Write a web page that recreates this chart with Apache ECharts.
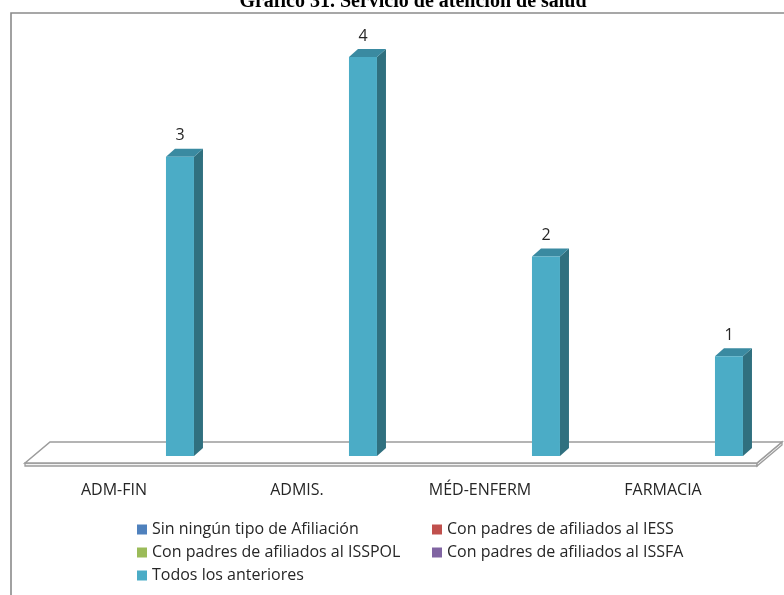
<!DOCTYPE html>
<html>
<head>
<meta charset="utf-8">
<script src="https://cdn.jsdelivr.net/npm/echarts@6/dist/echarts.min.js"></script>
<style>
  html, body { margin: 0; padding: 0; background: #ffffff; }
  #chart { width: 784px; height: 595px; }
</style>
</head>
<body>
<div id="chart"></div>
<script>
// Categories and series values
const categories = ['ADM-FIN', 'ADMIS.', 'MÉD-ENFERM', 'FARMACIA'];
const sinAfiliacion = [0, 0, 0, 0];
const padresIESS = [0, 0, 0, 0];
const padresISSPOL = [0, 0, 0, 0];
const padresISSFA = [0, 0, 0, 0];
const todosAnteriores = [3, 4, 2, 1];

const FONT = '"Open Sans", "Noto Sans", sans-serif';
const TEXT_COLOR = '#262626';

// 3D column: front face, darker side face, top face and value label
function renderColumn(params, api) {
  const band = api.size([1, 0])[0];
  const cat = api.value(0);
  const val = api.value(1);
  const base = api.coord([cat, 0]);
  const top = api.coord([cat, val]);
  const w = band * 0.153;
  const x0 = base[0] + band * 0.284;
  const dx = 9, dy = 8;
  const yb = base[1], yt = top[1];
  return {
    type: 'group',
    children: [
      {
        type: 'polygon',
        shape: { points: [[x0 + w, yt], [x0 + w + dx, yt - dy], [x0 + w + dx, yb - dy], [x0 + w, yb]] },
        style: { fill: '#30707f' }
      },
      {
        type: 'polygon',
        shape: { points: [[x0, yt], [x0 + dx, yt - dy], [x0 + w + dx, yt - dy], [x0 + w, yt]] },
        style: { fill: '#3a8aa1' }
      },
      {
        type: 'rect',
        shape: { x: x0, y: yt, width: w, height: yb - yt },
        style: { fill: '#4bacc6' }
      },
      {
        type: 'text',
        x: x0 + w / 2,
        y: yt - dy - 13,
        style: {
          text: String(val),
          fill: TEXT_COLOR,
          font: '16px ' + FONT,
          align: 'center',
          verticalAlign: 'middle'
        }
      }
    ]
  };
}

// Floor slab under the columns, sized from the grid
function renderFloor(params, api) {
  const cs = params.coordSys;
  const yBase = api.coord([0, 0])[1];
  const fl = cs.x + 2.5, fr = cs.x + cs.width + 2.5;
  const yFront = yBase + 7, yBack = yBase - 14;
  const depth = 25, thick = 3;
  const stroke = '#9c9c9c';
  return {
    type: 'group',
    children: [
      {
        type: 'polygon',
        shape: { points: [[fl, yFront], [fr, yFront], [fr, yFront + thick], [fl, yFront + thick]] },
        style: { fill: '#f2f2f2', stroke: stroke, lineWidth: 1.3 }
      },
      {
        type: 'polygon',
        shape: { points: [[fr, yFront], [fr + depth, yBack], [fr + depth, yBack + thick], [fr, yFront + thick]] },
        style: { fill: '#f2f2f2', stroke: stroke, lineWidth: 1.3 }
      },
      {
        type: 'polygon',
        shape: { points: [[fl, yFront], [fl + depth, yBack], [fr + depth, yBack], [fr, yFront]] },
        style: { fill: '#ffffff', stroke: stroke, lineWidth: 1.6 }
      }
    ]
  };
}

const chart = echarts.init(document.getElementById('chart'), null, { renderer: 'canvas' });

const legendCommon = {
  orient: 'vertical',
  icon: 'rect',
  itemWidth: 10,
  itemHeight: 10,
  itemGap: 6,
  padding: 0,
  selectedMode: false,
  textStyle: { fontFamily: FONT, fontSize: 16, color: TEXT_COLOR, lineHeight: 17 }
};

chart.setOption({
  animation: false,
  backgroundColor: '#ffffff',
  graphic: [
    {
      type: 'rect',
      shape: { x: 11, y: 13, width: 820, height: 640 },
      style: { fill: 'none', stroke: '#8a8a8a', lineWidth: 1.6 },
      z: -10
    },
    {
      type: 'text',
      x: 413,
      y: 11.5,
      style: {
        text: 'Gráfico 31. Servicio de atención de salud',
        font: 'bold 20px "Liberation Serif", "DejaVu Serif", serif',
        fill: '#000000',
        align: 'center',
        verticalAlign: 'bottom'
      }
    }
  ],
  grid: { left: 22.5, right: 29.5, top: 57, bottom: 139 },
  xAxis: {
    type: 'category',
    data: categories,
    axisLine: { show: false },
    axisTick: { show: false },
    splitLine: { show: false },
    axisLabel: { margin: 26, fontFamily: FONT, fontSize: 16, color: TEXT_COLOR }
  },
  yAxis: { type: 'value', min: 0, max: 4, show: false },
  legend: [
    Object.assign({}, legendCommon, {
      left: 137, top: 521,
      data: ['Sin ningún tipo de Afiliación', 'Con padres de afiliados al ISSPOL', 'Todos los anteriores']
    }),
    Object.assign({}, legendCommon, {
      left: 432, top: 521,
      data: ['Con padres de afiliados al IESS', 'Con padres de afiliados al ISSFA']
    })
  ],
  series: [
    {
      type: 'custom',
      renderItem: renderFloor,
      data: [[0, 0]],
      silent: true,
      z: 1
    },
    { name: 'Sin ningún tipo de Afiliación', type: 'bar', data: sinAfiliacion, itemStyle: { color: '#4f81bd' }, barWidth: 1 },
    { name: 'Con padres de afiliados al IESS', type: 'bar', data: padresIESS, itemStyle: { color: '#c0504d' }, barWidth: 1 },
    { name: 'Con padres de afiliados al ISSPOL', type: 'bar', data: padresISSPOL, itemStyle: { color: '#9bbb59' }, barWidth: 1 },
    { name: 'Con padres de afiliados al ISSFA', type: 'bar', data: padresISSFA, itemStyle: { color: '#8064a2' }, barWidth: 1 },
    {
      name: 'Todos los anteriores',
      type: 'custom',
      renderItem: renderColumn,
      itemStyle: { color: '#4bacc6' },
      data: todosAnteriores.map((v, i) => [i, v]),
      z: 5
    }
  ]
});
</script>
</body>
</html>
